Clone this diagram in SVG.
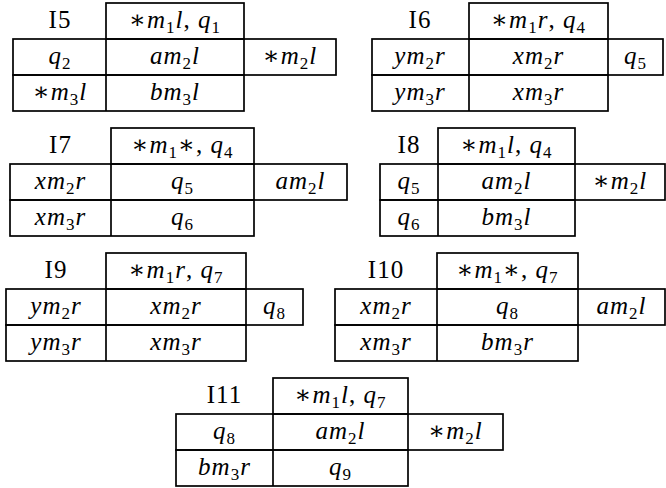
<svg xmlns="http://www.w3.org/2000/svg" width="666" height="488" viewBox="0 0 666 488">
<style>
.b{fill:none;stroke:#000;stroke-width:1.7}
.t{font-family:"Liberation Serif","DejaVu Serif",serif;font-size:25px;text-anchor:middle;fill:#000;letter-spacing:1px}
.i{font-style:italic}
.s{font-size:17px}
</style>
<rect width="666" height="488" fill="#fff"/>

<g id="I5">
<rect class="b" x="106" y="3" width="138" height="36"/>
<rect class="b" x="13" y="39" width="323" height="36"/>
<rect class="b" x="13" y="75" width="231" height="36"/>
<line class="b" x1="106" y1="39" x2="106" y2="111"/>
<line class="b" x1="244" y1="39" x2="244" y2="75"/>
<text class="t" x="60" y="28">I5</text>
<text class="t" x="175" y="28">∗<tspan class="i">m</tspan><tspan class="s" dy="5">1</tspan><tspan class="i" dy="-5">l</tspan>, <tspan class="i">q</tspan><tspan class="s" dy="5">1</tspan></text>
<text class="t" x="60" y="64"><tspan class="i">q</tspan><tspan class="s" dy="5">2</tspan></text>
<text class="t" x="175" y="64"><tspan class="i">am</tspan><tspan class="s" dy="5">2</tspan><tspan class="i" dy="-5">l</tspan></text>
<text class="t" x="290" y="64">∗<tspan class="i">m</tspan><tspan class="s" dy="5">2</tspan><tspan class="i" dy="-5">l</tspan></text>
<text class="t" x="60" y="100">∗<tspan class="i">m</tspan><tspan class="s" dy="5">3</tspan><tspan class="i" dy="-5">l</tspan></text>
<text class="t" x="175" y="100"><tspan class="i">bm</tspan><tspan class="s" dy="5">3</tspan><tspan class="i" dy="-5">l</tspan></text>
</g>

<g id="I6">
<rect class="b" x="469" y="3" width="139" height="36"/>
<rect class="b" x="372" y="39" width="291" height="36"/>
<rect class="b" x="372" y="75" width="236" height="36"/>
<line class="b" x1="469" y1="39" x2="469" y2="111"/>
<line class="b" x1="608" y1="39" x2="608" y2="75"/>
<text class="t" x="420" y="28">I6</text>
<text class="t" x="538.5" y="28">∗<tspan class="i">m</tspan><tspan class="s" dy="5">1</tspan><tspan class="i" dy="-5">r</tspan>, <tspan class="i">q</tspan><tspan class="s" dy="5">4</tspan></text>
<text class="t" x="420" y="64"><tspan class="i">ym</tspan><tspan class="s" dy="5">2</tspan><tspan class="i" dy="-5">r</tspan></text>
<text class="t" x="538.5" y="64"><tspan class="i">xm</tspan><tspan class="s" dy="5">2</tspan><tspan class="i" dy="-5">r</tspan></text>
<text class="t" x="635.5" y="64"><tspan class="i">q</tspan><tspan class="s" dy="5">5</tspan></text>
<text class="t" x="420" y="100"><tspan class="i">ym</tspan><tspan class="s" dy="5">3</tspan><tspan class="i" dy="-5">r</tspan></text>
<text class="t" x="538.5" y="100"><tspan class="i">xm</tspan><tspan class="s" dy="5">3</tspan><tspan class="i" dy="-5">r</tspan></text>
</g>

<g id="I7">
<rect class="b" x="111" y="128" width="143" height="36"/>
<rect class="b" x="10" y="164" width="337" height="36"/>
<rect class="b" x="10" y="200" width="244" height="36"/>
<line class="b" x1="111" y1="164" x2="111" y2="236"/>
<line class="b" x1="254" y1="164" x2="254" y2="200"/>
<text class="t" x="60.5" y="153">I7</text>
<text class="t" x="182.5" y="153">∗<tspan class="i">m</tspan><tspan class="s" dy="5">1</tspan><tspan dy="-5">∗, </tspan><tspan class="i">q</tspan><tspan class="s" dy="5">4</tspan></text>
<text class="t" x="60.5" y="189"><tspan class="i">xm</tspan><tspan class="s" dy="5">2</tspan><tspan class="i" dy="-5">r</tspan></text>
<text class="t" x="182.5" y="189"><tspan class="i">q</tspan><tspan class="s" dy="5">5</tspan></text>
<text class="t" x="300.5" y="189"><tspan class="i">am</tspan><tspan class="s" dy="5">2</tspan><tspan class="i" dy="-5">l</tspan></text>
<text class="t" x="60.5" y="225"><tspan class="i">xm</tspan><tspan class="s" dy="5">3</tspan><tspan class="i" dy="-5">r</tspan></text>
<text class="t" x="182.5" y="225"><tspan class="i">q</tspan><tspan class="s" dy="5">6</tspan></text>
</g>

<g id="I8">
<rect class="b" x="438" y="128" width="137" height="36"/>
<rect class="b" x="380" y="164" width="285" height="36"/>
<rect class="b" x="380" y="200" width="195" height="36"/>
<line class="b" x1="438" y1="164" x2="438" y2="236"/>
<line class="b" x1="575" y1="164" x2="575" y2="200"/>
<text class="t" x="409" y="153">I8</text>
<text class="t" x="506.5" y="153">∗<tspan class="i">m</tspan><tspan class="s" dy="5">1</tspan><tspan class="i" dy="-5">l</tspan>, <tspan class="i">q</tspan><tspan class="s" dy="5">4</tspan></text>
<text class="t" x="409" y="189"><tspan class="i">q</tspan><tspan class="s" dy="5">5</tspan></text>
<text class="t" x="506.5" y="189"><tspan class="i">am</tspan><tspan class="s" dy="5">2</tspan><tspan class="i" dy="-5">l</tspan></text>
<text class="t" x="620" y="189">∗<tspan class="i">m</tspan><tspan class="s" dy="5">2</tspan><tspan class="i" dy="-5">l</tspan></text>
<text class="t" x="409" y="225"><tspan class="i">q</tspan><tspan class="s" dy="5">6</tspan></text>
<text class="t" x="506.5" y="225"><tspan class="i">bm</tspan><tspan class="s" dy="5">3</tspan><tspan class="i" dy="-5">l</tspan></text>
</g>

<g id="I9">
<rect class="b" x="106" y="253" width="140" height="36"/>
<rect class="b" x="6" y="289" width="297" height="36"/>
<rect class="b" x="6" y="325" width="240" height="36"/>
<line class="b" x1="106" y1="289" x2="106" y2="361"/>
<line class="b" x1="246" y1="289" x2="246" y2="325"/>
<text class="t" x="56" y="278">I9</text>
<text class="t" x="176" y="278">∗<tspan class="i">m</tspan><tspan class="s" dy="5">1</tspan><tspan class="i" dy="-5">r</tspan>, <tspan class="i">q</tspan><tspan class="s" dy="5">7</tspan></text>
<text class="t" x="56" y="314"><tspan class="i">ym</tspan><tspan class="s" dy="5">2</tspan><tspan class="i" dy="-5">r</tspan></text>
<text class="t" x="176" y="314"><tspan class="i">xm</tspan><tspan class="s" dy="5">2</tspan><tspan class="i" dy="-5">r</tspan></text>
<text class="t" x="274.5" y="314"><tspan class="i">q</tspan><tspan class="s" dy="5">8</tspan></text>
<text class="t" x="56" y="350"><tspan class="i">ym</tspan><tspan class="s" dy="5">3</tspan><tspan class="i" dy="-5">r</tspan></text>
<text class="t" x="176" y="350"><tspan class="i">xm</tspan><tspan class="s" dy="5">3</tspan><tspan class="i" dy="-5">r</tspan></text>
</g>

<g id="I10">
<rect class="b" x="437" y="253" width="141" height="36"/>
<rect class="b" x="335" y="289" width="330" height="36"/>
<rect class="b" x="335" y="325" width="243" height="36"/>
<line class="b" x1="437" y1="289" x2="437" y2="361"/>
<line class="b" x1="578" y1="289" x2="578" y2="325"/>
<text class="t" x="386" y="278">I10</text>
<text class="t" x="507.5" y="278">∗<tspan class="i">m</tspan><tspan class="s" dy="5">1</tspan><tspan dy="-5">∗, </tspan><tspan class="i">q</tspan><tspan class="s" dy="5">7</tspan></text>
<text class="t" x="386" y="314"><tspan class="i">xm</tspan><tspan class="s" dy="5">2</tspan><tspan class="i" dy="-5">r</tspan></text>
<text class="t" x="507.5" y="314"><tspan class="i">q</tspan><tspan class="s" dy="5">8</tspan></text>
<text class="t" x="621.5" y="314"><tspan class="i">am</tspan><tspan class="s" dy="5">2</tspan><tspan class="i" dy="-5">l</tspan></text>
<text class="t" x="386" y="350"><tspan class="i">xm</tspan><tspan class="s" dy="5">3</tspan><tspan class="i" dy="-5">r</tspan></text>
<text class="t" x="507.5" y="350"><tspan class="i">bm</tspan><tspan class="s" dy="5">3</tspan><tspan class="i" dy="-5">r</tspan></text>
</g>

<g id="I11">
<rect class="b" x="273" y="378" width="135" height="36"/>
<rect class="b" x="176" y="414" width="327" height="36"/>
<rect class="b" x="176" y="450" width="232" height="36"/>
<line class="b" x1="273" y1="414" x2="273" y2="486"/>
<line class="b" x1="408" y1="414" x2="408" y2="450"/>
<text class="t" x="224.5" y="403">I11</text>
<text class="t" x="340.5" y="403">∗<tspan class="i">m</tspan><tspan class="s" dy="5">1</tspan><tspan class="i" dy="-5">l</tspan>, <tspan class="i">q</tspan><tspan class="s" dy="5">7</tspan></text>
<text class="t" x="224.5" y="439"><tspan class="i">q</tspan><tspan class="s" dy="5">8</tspan></text>
<text class="t" x="340.5" y="439"><tspan class="i">am</tspan><tspan class="s" dy="5">2</tspan><tspan class="i" dy="-5">l</tspan></text>
<text class="t" x="455.5" y="439">∗<tspan class="i">m</tspan><tspan class="s" dy="5">2</tspan><tspan class="i" dy="-5">l</tspan></text>
<text class="t" x="224.5" y="475"><tspan class="i">bm</tspan><tspan class="s" dy="5">3</tspan><tspan class="i" dy="-5">r</tspan></text>
<text class="t" x="340.5" y="475"><tspan class="i">q</tspan><tspan class="s" dy="5">9</tspan></text>
</g>
</svg>
